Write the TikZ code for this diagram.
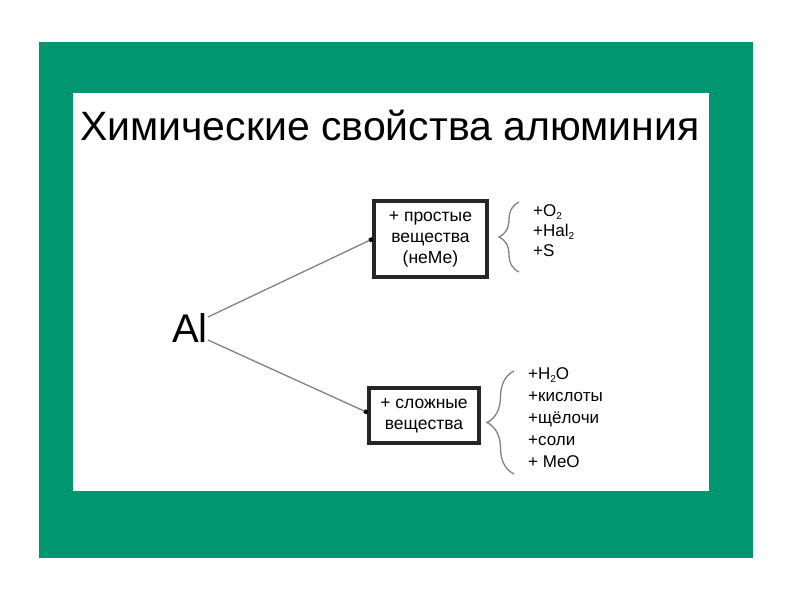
\documentclass[tikz,border=0pt]{standalone}
\usepackage{fontspec}
\setmainfont{Liberation Sans}
\usetikzlibrary{arrows.meta,decorations.pathreplacing}
\definecolor{slidegreen}{RGB}{0,150,112}
\definecolor{linegray}{RGB}{130,130,130}
\newcommand{\lowsub}[1]{\raisebox{-3.5pt}{\fontsize{10}{10}\selectfont #1}}
\begin{document}
\begin{tikzpicture}[x=1pt,y=-1pt,
  box/.style={draw=black!85,line width=3.2pt,fill=white,inner sep=0pt,align=center,
    font=\fontsize{17.5}{21}\selectfont},
  conn/.style={draw=linegray,line width=1.3pt,-{Square[length=3.5pt,width=4pt,black]}},
  listtext/.style={inner sep=0pt,align=left,anchor=north west},
  bracestyle/.style={draw=linegray,line width=1.3pt,decorate,decoration={brace,amplitude=#1,aspect=0.5}}
]
\useasboundingbox (0,0) rectangle (794,595);
\fill[white] (0,0) rectangle (794,595);
\fill[slidegreen] (39,42) rectangle (753,558);
\fill[white] (73,93) rectangle (709,491);

\node[anchor=base west,inner sep=0pt,font=\fontsize{41}{41}\selectfont] (title) at (80,140) {Химические свойства алюминия};

\node[anchor=base west,inner sep=0pt,font=\fontsize{40}{40}\selectfont] (al) at (172,342) {Al};

\node[box,minimum width=113pt,minimum height=76pt] (simple) at (430.5,239) {+ простые\\вещества\\(неМе)};
\node[box,minimum width=110pt,minimum height=55pt] (complex) at (424,415.5) {+ сложные\\вещества};

\draw[conn] ([yshift=10.5pt]al.east) -- (simple.west);
\draw[conn] ([yshift=-12.5pt]al.east) -- ([yshift=3pt]complex.west);

\coordinate (b1b) at (519,272);
\coordinate (b1t) at (519,202);
\draw[bracestyle=20pt] (b1b) -- (b1t);
\node[listtext,font=\fontsize{17}{20}\selectfont] (list1) at (533,204) {+O\lowsub{2}\\+Hal\lowsub{2}\\+S};

\coordinate (b2b) at (514,474);
\coordinate (b2t) at (514,371);
\draw[bracestyle=27pt] (b2b) -- (b2t);
\node[listtext,font=\fontsize{17}{22}\selectfont] (list2) at (528,367) {+H\lowsub{2}O\\+кислоты\\+щёлочи\\+соли\\+ MeO};
\end{tikzpicture}
\end{document}
